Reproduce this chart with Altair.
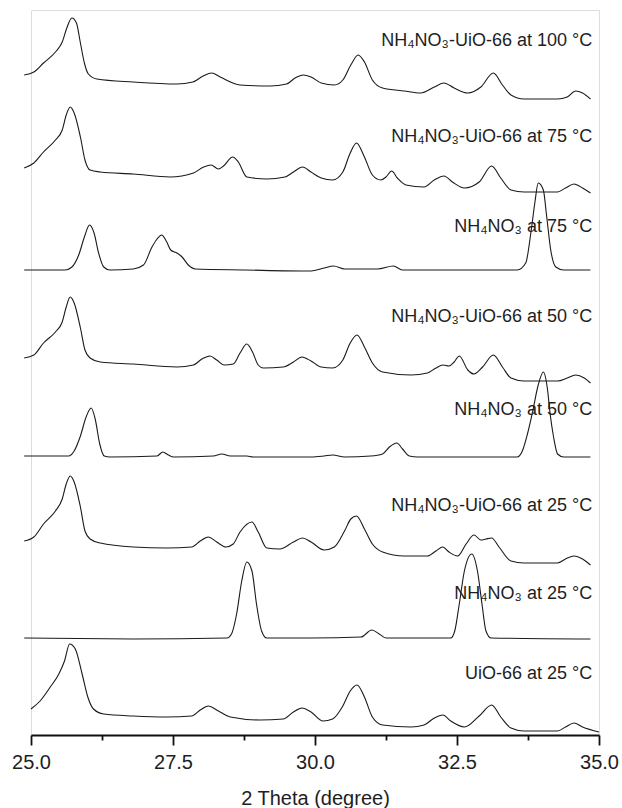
import altair as alt
import pandas as pd

# Stacked XRD patterns (2 theta in degrees, intensity in offset arbitrary units)
x_100 = [24.88, 25.05, 25.22, 25.43, 25.55, 25.63, 25.72, 25.80, 25.87, 25.94, 26.01, 26.16, 26.80, 27.57, 27.85, 28.03, 28.18, 28.33, 28.68, 29.21, 29.50, 29.65, 29.79, 29.93, 30.11, 30.34, 30.49, 30.63, 30.76, 30.87, 31.01, 31.19, 31.57, 31.86, 32.10, 32.27, 32.45, 32.69, 32.92, 33.14, 33.30, 33.45, 33.68, 34.27, 34.44, 34.59, 34.71, 34.85]
y_100 = [660, 663, 672, 683, 693, 707, 717, 712, 692, 672, 661, 656, 653, 651, 653, 659, 662, 658, 650, 649, 651, 657, 660, 658, 652, 650, 655, 670, 680, 673, 655, 647, 644, 642, 648, 652, 647, 642, 648, 662, 650, 640, 636, 636, 638, 644, 642, 636]

x_75 = [24.88, 25.05, 25.22, 25.43, 25.55, 25.62, 25.69, 25.76, 25.87, 25.95, 26.04, 26.22, 26.80, 27.45, 27.86, 28.04, 28.17, 28.30, 28.39, 28.55, 28.65, 28.80, 29.15, 29.47, 29.62, 29.78, 29.93, 30.11, 30.31, 30.49, 30.62, 30.73, 30.87, 31.01, 31.16, 31.25, 31.35, 31.45, 31.60, 31.92, 32.10, 32.27, 32.42, 32.63, 32.89, 33.11, 33.27, 33.45, 33.68, 34.27, 34.41, 34.56, 34.71, 34.85]
y_75 = [567, 572, 583, 595, 605, 620, 628, 622, 598, 575, 565, 563, 561, 558, 562, 568, 570, 566, 569, 578, 573, 558, 556, 558, 563, 568, 563, 557, 555, 563, 582, 592, 578, 560, 555, 558, 564, 557, 550, 548, 555, 559, 553, 547, 553, 569, 557, 545, 543, 543, 547, 551, 547, 542]

x_an75 = [24.88, 25.60, 25.72, 25.84, 25.94, 26.03, 26.11, 26.19, 26.28, 26.39, 26.80, 26.98, 27.13, 27.22, 27.30, 27.39, 27.46, 27.57, 27.66, 27.77, 27.89, 28.77, 29.93, 30.16, 30.33, 30.52, 31.10, 31.38, 31.54, 33.56, 33.71, 33.80, 33.87, 33.93, 34.02, 34.08, 34.15, 34.24, 34.38, 34.85]
y_an75 = [465, 465, 468, 480, 498, 510, 502, 482, 468, 465, 466, 470, 488, 496, 500, 493, 485, 482, 478, 470, 466, 465, 464, 467, 469, 466, 466, 469, 465, 465, 472, 502, 532, 552, 545, 518, 485, 468, 465, 465]

x_50 = [24.88, 25.05, 25.22, 25.43, 25.55, 25.62, 25.69, 25.76, 25.87, 25.95, 26.04, 26.22, 26.80, 27.57, 27.86, 28.01, 28.15, 28.27, 28.40, 28.56, 28.68, 28.80, 28.90, 29.00, 29.09, 29.44, 29.62, 29.77, 29.93, 30.11, 30.31, 30.49, 30.62, 30.74, 30.87, 31.01, 31.19, 31.69, 31.98, 32.13, 32.25, 32.36, 32.45, 32.54, 32.69, 32.80, 32.95, 33.14, 33.30, 33.45, 33.68, 34.27, 34.44, 34.59, 34.74, 34.85]
y_50 = [377, 380, 392, 403, 413, 428, 438, 432, 407, 385, 377, 373, 371, 368, 370, 376, 379, 375, 370, 371, 382, 391, 383, 370, 367, 368, 373, 378, 374, 368, 367, 375, 392, 400, 388, 372, 363, 360, 362, 367, 370, 369, 373, 379, 365, 361, 368, 380, 368, 357, 354, 354, 357, 360, 357, 352]

x_an50 = [24.88, 25.66, 25.76, 25.87, 25.97, 26.06, 26.13, 26.21, 26.29, 26.39, 27.22, 27.32, 27.42, 27.51, 28.21, 28.36, 28.51, 28.80, 28.91, 29.93, 30.16, 30.31, 30.52, 30.98, 31.19, 31.31, 31.44, 31.54, 31.66, 31.81, 33.56, 33.65, 33.74, 33.83, 33.93, 34.02, 34.09, 34.14, 34.20, 34.27, 34.38, 34.85]
y_an50 = [279, 279, 284, 299, 318, 327, 316, 291, 279, 278, 279, 283, 280, 278, 279, 281, 279, 279, 278, 278, 279, 280, 278, 279, 281, 288, 292, 286, 279, 278, 278, 284, 301, 323, 350, 363, 347, 321, 298, 281, 278, 278]

x_25 = [24.88, 25.05, 25.22, 25.43, 25.55, 25.62, 25.69, 25.76, 25.87, 25.95, 26.04, 26.22, 26.80, 27.39, 27.83, 27.98, 28.12, 28.27, 28.43, 28.56, 28.68, 28.89, 29.00, 29.15, 29.38, 29.62, 29.78, 29.93, 30.16, 30.34, 30.52, 30.63, 30.73, 30.87, 31.01, 31.19, 31.57, 31.98, 32.13, 32.25, 32.36, 32.51, 32.66, 32.80, 32.92, 33.01, 33.11, 33.24, 33.45, 33.68, 34.27, 34.41, 34.56, 34.71, 34.85]
y_25 = [194, 198, 211, 224, 236, 251, 259, 253, 228, 204, 196, 192, 188, 187, 188, 194, 198, 193, 188, 191, 203, 213, 203, 187, 186, 193, 197, 193, 185, 188, 204, 216, 219, 206, 191, 183, 179, 179, 184, 188, 183, 179, 191, 200, 195, 196, 197, 188, 174, 172, 172, 176, 179, 176, 170]

x_an25 = [24.88, 26.80, 28.45, 28.53, 28.62, 28.71, 28.80, 28.89, 28.97, 29.06, 29.15, 29.93, 30.81, 31.00, 31.13, 31.25, 32.39, 32.46, 32.54, 32.63, 32.76, 32.86, 32.94, 33.01, 33.10, 34.85]
y_an25 = [97, 96, 97, 101, 121, 154, 173, 164, 131, 104, 97, 97, 98, 105, 101, 97, 97, 104, 131, 164, 181, 164, 131, 104, 97, 96]

x_uio = [25.00, 25.16, 25.34, 25.49, 25.59, 25.68, 25.78, 25.90, 26.00, 26.10, 26.28, 26.80, 27.39, 27.83, 27.98, 28.12, 28.30, 28.51, 29.03, 29.44, 29.62, 29.77, 29.93, 30.14, 30.31, 30.49, 30.62, 30.74, 30.87, 31.01, 31.19, 31.69, 31.92, 32.10, 32.25, 32.39, 32.63, 32.89, 33.11, 33.27, 33.45, 33.68, 34.27, 34.41, 34.56, 34.71, 35.00]
y_uio = [26, 34, 48, 61, 74, 91, 86, 61, 38, 26, 21, 19, 18, 19, 25, 29, 24, 18, 15, 16, 23, 27, 23, 14, 16, 29, 44, 50, 38, 18, 10, 8, 10, 17, 20, 14, 8, 19, 30, 18, 7, 4, 4, 8, 12, 8, 3]

label_text = [
    "NH₄NO₃-UiO-66 at 100 °C",
    "NH₄NO₃-UiO-66 at 75 °C",
    "NH₄NO₃ at 75 °C",
    "NH₄NO₃-UiO-66 at 50 °C",
    "NH₄NO₃ at 50 °C",
    "NH₄NO₃-UiO-66 at 25 °C",
    "NH₄NO₃ at 25 °C",
    "UiO-66 at 25 °C",
]
label_y = [689, 593, 503, 413, 320, 224, 136, 56]
label_x = [34.88] * len(label_text)

series = [
    (x_100, y_100), (x_75, y_75), (x_an75, y_an75), (x_50, y_50),
    (x_an50, y_an50), (x_25, y_25), (x_an25, y_an25), (x_uio, y_uio),
]

rows = []
for name, (xs, ys) in zip(label_text, series):
    for i, (xv, yv) in enumerate(zip(xs, ys)):
        rows.append({"pattern": name, "i": i, "theta": xv, "intensity": yv})
patterns = pd.DataFrame(rows)
labels = pd.DataFrame({"label": label_text, "theta": label_x, "intensity": label_y})

FONT = "Liberation Sans"
tick_vals = [25, 26.25, 27.5, 28.75, 30, 31.25, 32.5, 33.75, 35]

x_enc = alt.X(
    "theta:Q",
    scale=alt.Scale(domain=[25, 35], nice=False, zero=False),
    axis=alt.Axis(
        values=tick_vals,
        labelExpr="datum.value % 2.5 === 0 ? format(datum.value, '.1f') : ''",
        tickSize={"condition": {"test": "datum.value % 2.5 !== 0", "value": 5}, "value": 10},
        grid=False,
        domainColor="#111",
        domainWidth=1.8,
        tickColor="#111",
        tickWidth=1.8,
        labelFont=FONT,
        labelFontSize=20,
        labelColor="#1e1e1e",
        labelPadding=7,
        labelFlush=False,
        title="2 Theta (degree)",
        titleFont=FONT,
        titleFontSize=20,
        titleFontWeight="normal",
        titleColor="#1e1e1e",
        titlePadding=16,
    ),
)
y_enc = alt.Y("intensity:Q", scale=alt.Scale(domain=[0, 725], nice=False, zero=False), axis=None)

lines = alt.Chart(patterns).mark_line(
    interpolate="monotone", color="#1a1a1a", strokeWidth=1.1
).encode(x=x_enc, y=y_enc, detail="pattern:N", order="i:Q")

texts = alt.Chart(labels).mark_text(
    align="right", baseline="alphabetic", font=FONT, fontSize=18, color="#1e1e1e"
).encode(x="theta:Q", y="intensity:Q", text="label:N")

chart = (
    alt.layer(lines, texts)
    .properties(
        width=568,
        height=725,
        padding={"left": 31, "top": 10, "right": 23, "bottom": 73},
        autosize=alt.AutoSizeParams(type="none"),
    )
    .configure_view(stroke=None)
    .configure(background="white")
)

chart.save("out.html", embed_options={"renderer": "svg", "actions": False})
